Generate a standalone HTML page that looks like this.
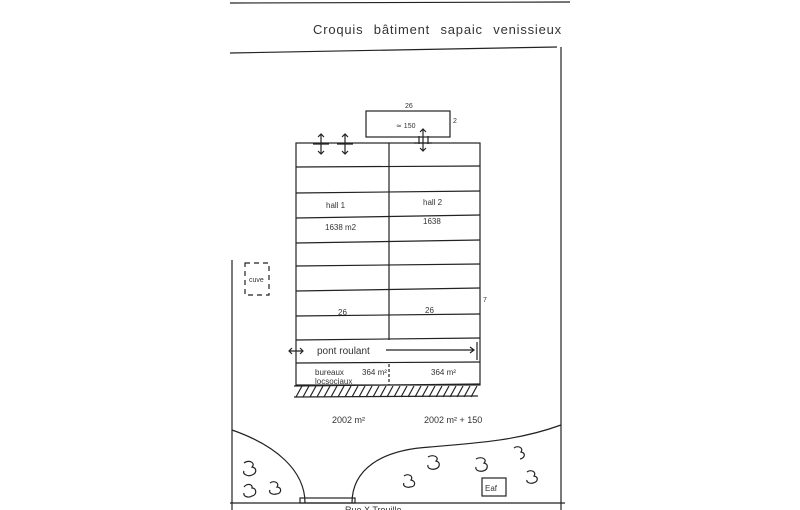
<!DOCTYPE html>
<html><head><meta charset="utf-8"><style>
html,body{margin:0;padding:0;background:#fff;width:800px;height:510px;overflow:hidden}
svg text{font-family:"Liberation Sans",sans-serif;fill:#333}
</style></head><body>
<svg width="800" height="510" viewBox="0 0 800 510" xmlns="http://www.w3.org/2000/svg">
<g stroke="#222" stroke-width="1.2" fill="none">
<line x1="230" y1="3" x2="570" y2="2"/>
<line x1="230" y1="53" x2="557" y2="47"/>
<line x1="561" y1="47" x2="561" y2="510"/>
<line x1="232" y1="260" x2="232" y2="510"/>
<line x1="230" y1="503" x2="565" y2="503"/>
<rect x="366" y="111" width="84" height="26"/>
<rect x="296" y="143" width="184" height="242"/>
<line x1="389" y1="143" x2="389" y2="340"/>
<line x1="389" y1="364" x2="389" y2="385" stroke-dasharray="3,2"/>
<line x1="296" y1="167" x2="480" y2="166"/>
<line x1="296" y1="193" x2="480" y2="191"/>
<line x1="296" y1="218" x2="480" y2="215"/>
<line x1="296" y1="243" x2="480" y2="240"/>
<line x1="296" y1="266" x2="480" y2="264"/>
<line x1="296" y1="291" x2="480" y2="288"/>
<line x1="296" y1="316" x2="480" y2="314"/>
<line x1="296" y1="340" x2="480" y2="338"/>
<line x1="296" y1="363" x2="480" y2="362"/>
<line x1="294" y1="386" x2="480" y2="384"/>
<line x1="294" y1="397" x2="478" y2="396"/>
<line x1="477" y1="342" x2="477" y2="360"/>
<path d="M296 397l6-11M303 397l6-11M310 397l6-11M317 397l6-11M324 397l6-11M331 397l6-11M338 397l6-11M345 397l6-11M352 397l6-11M359 397l6-11M366 397l6-11M373 397l6-11M380 397l6-11M387 397l6-11M394 397l6-11M401 397l6-11M408 397l6-11M415 397l6-11M422 397l6-11M429 397l6-11M436 397l6-11M443 397l6-11M450 397l6-11M457 397l6-11M464 397l6-11M471 397l6-11"/>
<path d="M289 351h14M292 348l-3 3 3 3M300 348l3 3-3 3"/>
<path d="M386 350h88M470 347l4 3-4 3"/>
<path d="M321 134v20M318 137l3-3 3 3M318 151l3 3 3-3M313 144h16"/>
<path d="M345 134v20M342 137l3-3 3 3M342 151l3 3 3-3M337 144h16"/>
<path d="M423 129v22M420 132l3-3 3 3M420 148l3 3 3-3M414 143h18M419 136v8M428 136v8"/>
<rect x="245" y="263" width="24" height="32" stroke-dasharray="5,4"/>
<path d="M232 430C275 445 305 470 305 503"/>
<path d="M352 503C352 470 380 450 430 447C480 443 520 440 561 425"/>
<rect x="300" y="498" width="55" height="5"/>
<rect x="482" y="478" width="24" height="18"/>
<path d="M244 463c5-4 12 0 8 4c5 1 5 6 0 8c-4 2-10-1-8-4"/>
<path d="M244 487c3-4 9-3 8 1c5 0 5 7 0 8c-3 2-9 1-8-3"/>
<path d="M270 483c4-3 10 0 7 4c5 0 5 7-1 7c-3 1-8-1-6-4"/>
<path d="M404 476c4-3 10 0 7 4c5 1 5 7-1 7c-3 1-8-1-6-4"/>
<path d="M428 457c5-3 12 0 8 4c5 1 4 7-1 8c-4 1-8-1-7-4"/>
<path d="M476 459c5-3 12 0 8 4c5 1 4 7-1 8c-4 1-8-1-7-4"/>
<path d="M514 448c4-3 10 0 7 4c5 1 4 6-1 7"/>
<path d="M527 472c4-3 10 0 7 4c5 1 4 6-1 7c-3 1-7-1-6-3"/>
</g>
<g font-size="9">
<text x="313" y="34" font-size="13" letter-spacing="0.8" word-spacing="6">Croquis bâtiment sapaic venissieux</text>
<text x="405" y="108" font-size="7">26</text>
<text x="453" y="123" font-size="7">2</text>
<text x="396" y="128" font-size="7">≃ 150</text>
<text x="326" y="208" font-size="8">hall 1</text>
<text x="325" y="230" font-size="8">1638 m2</text>
<text x="423" y="205" font-size="8">hall 2</text>
<text x="423" y="224" font-size="8">1638</text>
<text x="338" y="315" font-size="8">26</text>
<text x="425" y="313" font-size="8">26</text>
<text x="483" y="302" font-size="7">7</text>
<text x="317" y="354" font-size="10">pont roulant</text>
<text x="315" y="375" font-size="8">bureaux</text>
<text x="315" y="384" font-size="8">locsociaux</text>
<text x="362" y="375" font-size="8">364 m²</text>
<text x="431" y="375" font-size="8">364 m²</text>
<text x="332" y="423" font-size="9">2002 m²</text>
<text x="424" y="423" font-size="9">2002 m² + 150</text>
<text x="485" y="491" font-size="8">Eaf</text>
<text x="345" y="513" font-size="9">Rue X Trouille</text>
<text x="249" y="282" font-size="7">cuve</text>
</g>
</svg>
</body></html>
